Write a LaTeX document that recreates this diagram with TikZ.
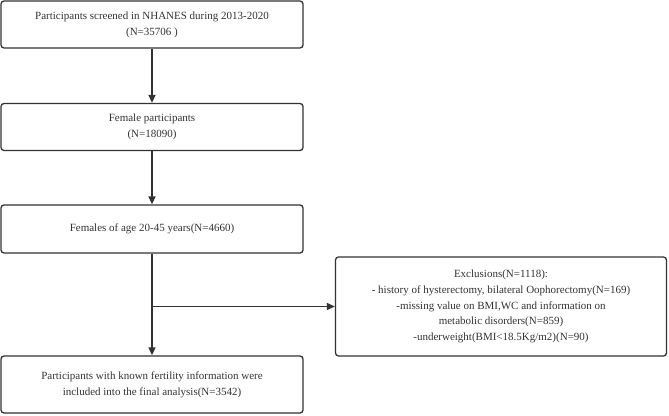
\documentclass[tikz,border=0pt]{standalone}
\usepackage{fontspec}
\setmainfont{Liberation Serif}
\usetikzlibrary{arrows.meta}
\definecolor{ink}{HTML}{333333}
\begin{document}
\begin{tikzpicture}[x=1pt,y=-1pt,
  boxst/.style={draw=ink,line width=1.3pt,rounded corners=3pt,text=ink,font=\fontsize{11}{15.8}\selectfont,align=center,inner sep=0pt},
  arr/.style={draw=ink,line width=1.3pt,-{Triangle[length=8pt,width=7pt]}}]
\useasboundingbox (0,0) rectangle (669,415);
\node[boxst,minimum width=302pt,minimum height=47pt] (b1) at (152,24.5) {Participants screened in NHANES during 2013-2020\\(N=35706 )};
\node[boxst,minimum width=302pt,minimum height=47pt] (b2) at (152,127) {Female participants\\(N=18090)};
\node[boxst,minimum width=302pt,minimum height=48pt] (b3) at (152,229) {Females of age 20-45 years(N=4660)};
\node[boxst,minimum width=302pt,minimum height=57pt] (b4) at (152,384.5) {Participants with known fertility information were\\included into the final analysis(N=3542)};
\node[boxst,minimum width=331pt,minimum height=99pt] (ex) at (501,306.5) {Exclusions(N=1118):\\- history of hysterectomy, bilateral Oophorectomy(N=169)\\-missing value on BMI,WC and information on\\metabolic disorders(N=859)\\-underweight(BMI<18.5Kg/m2)(N=90)};
\coordinate (j) at (b3.south |- ex.west);
\draw[arr] (b1) -- (b2);
\draw[arr] (b2) -- (b3);
\draw[arr] (b3) -- (b4);
\draw[arr] (j) -- (ex.west);
\end{tikzpicture}
\end{document}
